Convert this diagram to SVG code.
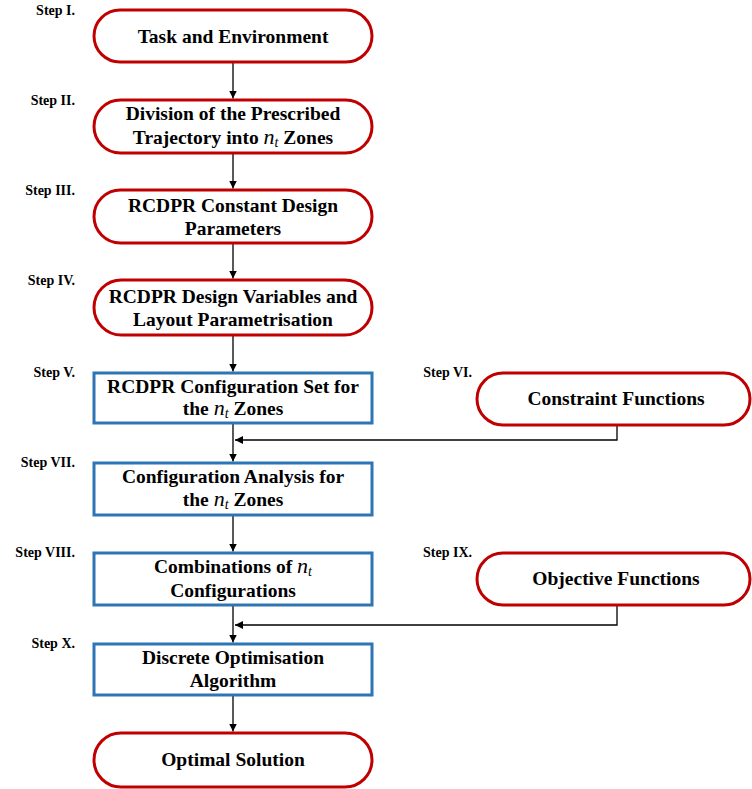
<svg xmlns="http://www.w3.org/2000/svg" width="752" height="789" viewBox="0 0 752 789">
<style>
.red{fill:#fff;stroke:#c00000;stroke-width:3}
.blue{fill:#fff;stroke:#2e75b6;stroke-width:3}
.t{font-family:"Liberation Serif","Times New Roman",serif;font-weight:bold;font-size:19.5px;fill:#000;text-anchor:middle}
.s{font-family:"Liberation Serif","Times New Roman",serif;font-weight:bold;font-size:14px;fill:#000;text-anchor:end}
.m{font-style:italic;font-weight:normal;font-size:22px}
.sub{font-style:italic;font-weight:normal;font-size:14px}
.c{fill:none;stroke:#000;stroke-width:1.3}
</style>
<defs>
<marker id="ah" markerWidth="8" markerHeight="8" refX="8" refY="4" orient="auto" markerUnits="userSpaceOnUse">
<path d="M0,0 L8,4 L0,8 Z" fill="#000"/>
</marker>
</defs>
<g id="labels">
<text class="s" x="75" y="15">Step I.</text>
<text class="s" x="75" y="105">Step II.</text>
<text class="s" x="75" y="195">Step III.</text>
<text class="s" x="75" y="285">Step IV.</text>
<text class="s" x="75" y="377">Step V.</text>
<text class="s" x="472" y="377">Step VI.</text>
<text class="s" x="75" y="467">Step VII.</text>
<text class="s" x="75" y="557">Step VIII.</text>
<text class="s" x="472" y="557">Step IX.</text>
<text class="s" x="75" y="648">Step X.</text>
</g>
<g id="connectors">
<line class="c" x1="233" y1="62" x2="233" y2="98.5" marker-end="url(#ah)"/>
<line class="c" x1="233" y1="153" x2="233" y2="188.5" marker-end="url(#ah)"/>
<line class="c" x1="233" y1="243" x2="233" y2="278.5" marker-end="url(#ah)"/>
<line class="c" x1="233" y1="335" x2="233" y2="371.5" marker-end="url(#ah)"/>
<line class="c" x1="233" y1="423" x2="233" y2="461.5" marker-end="url(#ah)"/>
<polyline class="c" points="617,425 617,440 235,440" marker-end="url(#ah)"/>
<line class="c" x1="233" y1="515" x2="233" y2="551.5" marker-end="url(#ah)"/>
<line class="c" x1="233" y1="605" x2="233" y2="642.5" marker-end="url(#ah)"/>
<polyline class="c" points="617,605 617,625 235,625" marker-end="url(#ah)"/>
<line class="c" x1="233" y1="695" x2="233" y2="731.5" marker-end="url(#ah)"/>
</g>
<g id="n1"><rect class="red" x="94" y="10" width="278" height="52" rx="26"/><text class="t" x="233" y="43">Task and Environment</text></g>
<g id="n2"><rect class="red" x="94" y="100" width="278" height="53" rx="26.5"/><text class="t" x="233" y="120">Division of the Prescribed</text><text class="t" x="233" y="144">Trajectory into <tspan class="m">n</tspan><tspan class="sub" dy="3">t</tspan><tspan dy="-3"> Zones</tspan></text></g>
<g id="n3"><rect class="red" x="94" y="190" width="278" height="53" rx="26.5"/><text class="t" x="233" y="212">RCDPR Constant Design</text><text class="t" x="233" y="235">Parameters</text></g>
<g id="n4"><rect class="red" x="94" y="280" width="278" height="55" rx="27.5"/><text class="t" x="233" y="303">RCDPR Design Variables and</text><text class="t" x="233" y="326">Layout Parametrisation</text></g>
<g id="n5"><rect class="blue" x="94" y="373" width="278" height="50"/><text class="t" x="233" y="393">RCDPR Configuration Set for</text><text class="t" x="233" y="415">the <tspan class="m">n</tspan><tspan class="sub" dy="3">t</tspan><tspan dy="-3"> Zones</tspan></text></g>
<g id="n6"><rect class="red" x="477" y="373" width="273" height="52" rx="26"/><text class="t" x="616" y="405">Constraint Functions</text></g>
<g id="n7"><rect class="blue" x="94" y="463" width="278" height="52"/><text class="t" x="233" y="483">Configuration Analysis for</text><text class="t" x="233" y="506">the <tspan class="m">n</tspan><tspan class="sub" dy="3">t</tspan><tspan dy="-3"> Zones</tspan></text></g>
<g id="n8"><rect class="blue" x="94" y="553" width="278" height="52"/><text class="t" x="233" y="573">Combinations of <tspan class="m">n</tspan><tspan class="sub" dy="3">t</tspan></text><text class="t" x="233" y="597">Configurations</text></g>
<g id="n9"><rect class="red" x="477" y="553" width="273" height="52" rx="26"/><text class="t" x="616" y="585">Objective Functions</text></g>
<g id="n10"><rect class="blue" x="94" y="644" width="278" height="51"/><text class="t" x="233" y="664">Discrete Optimisation</text><text class="t" x="233" y="687">Algorithm</text></g>
<g id="n11"><rect class="red" x="94" y="733" width="278" height="54" rx="27"/><text class="t" x="233" y="766">Optimal Solution</text></g>
</svg>
